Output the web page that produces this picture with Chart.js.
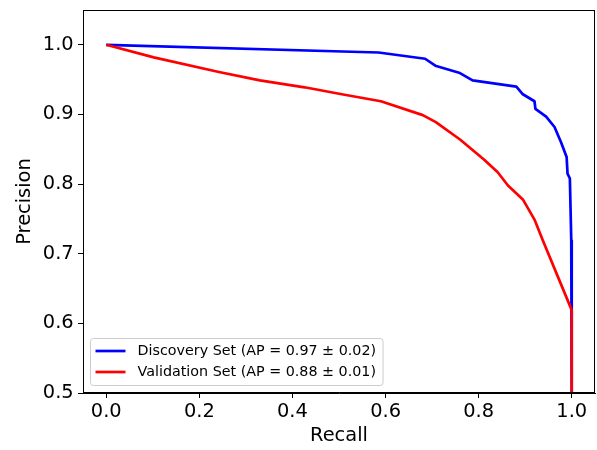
<!DOCTYPE html>
<html lang="en">
<head>
  <meta charset="UTF-8" />
  <title>Precision-Recall</title>
  <script src="https://cdn.jsdelivr.net/npm/chart.js"></script>
  <style>
    body { margin: 0; background: white; }
    #pr { display: block; }
  </style>
</head>
<body>
<canvas id="pr" width="597" height="450"></canvas>
<script>
// curve points read as (recall, precision)
const discoveryRecall = [0, 0.585, 0.685, 0.707, 0.758, 0.787, 0.881, 0.895, 0.920, 0.922, 0.945, 0.963, 0.977, 0.989, 0.991, 0.996, 0.999, 1.0, 1.0];
const discoveryPrecision = [1.0, 0.989, 0.980, 0.970, 0.960, 0.949, 0.940, 0.929, 0.919, 0.908, 0.897, 0.882, 0.860, 0.839, 0.815, 0.808, 0.719, 0.619, 0.5];
const validationRecall = [0, 0.102, 0.242, 0.330, 0.426, 0.506, 0.590, 0.680, 0.708, 0.760, 0.812, 0.841, 0.863, 0.895, 0.920, 0.938, 1.0, 1.0];
const validationPrecision = [1.0, 0.982, 0.961, 0.949, 0.939, 0.929, 0.919, 0.899, 0.889, 0.864, 0.835, 0.817, 0.798, 0.778, 0.749, 0.719, 0.619, 0.5];
const seriesLabels = ['Discovery Set (AP = 0.97 ± 0.02)', 'Validation Set (AP = 0.88 ± 0.01)'];
const xTicks = [0, 0.2, 0.4, 0.6, 0.8, 1.0];
const yTicks = [0.5, 0.6, 0.7, 0.8, 0.9, 1.0];

const FONT = 'DejaVu Sans';

function pts(xs, ys) {
  return xs.map((x, i) => ({ x: x, y: ys[i] }));
}

// box around the plot, like a matplotlib axes frame
const frame = {
  id: 'frame',
  afterDatasetsDraw(chart) {
    const a = chart.chartArea, ctx = chart.ctx;
    ctx.save();
    ctx.strokeStyle = '#000';
    ctx.lineWidth = 1;
    ctx.strokeRect(Math.round(a.left) + 0.5, Math.round(a.top) + 0.5,
      Math.round(a.right - a.left) - 1, Math.round(a.bottom - a.top) - 1);
    ctx.restore();
  }
};

// legend drawn in the lower-left corner of the plot
const cornerLegend = {
  id: 'cornerLegend',
  afterDatasetsDraw(chart) {
    const a = chart.chartArea, ctx = chart.ctx;
    const sets = chart.data.datasets;
    ctx.save();
    ctx.font = '14.3px "' + FONT + '"';
    let w = 0;
    sets.forEach(d => { w = Math.max(w, ctx.measureText(d.label).width); });
    const boxW = 5 + 30 + 12 + w + 7;
    const boxH = 47;
    const x0 = a.left + 7.5, y0 = a.bottom - 8 - boxH + 0.5;
    ctx.beginPath();
    ctx.roundRect(x0, y0, boxW, boxH, 3);
    ctx.fillStyle = 'rgba(255,255,255,0.8)';
    ctx.fill();
    ctx.strokeStyle = '#cccccc';
    ctx.lineWidth = 1;
    ctx.stroke();
    sets.forEach((d, i) => {
      const y = y0 + 12.5 + i * 21;
      ctx.beginPath();
      ctx.moveTo(x0 + 5, y);
      ctx.lineTo(x0 + 35, y);
      ctx.strokeStyle = d.borderColor;
      ctx.lineWidth = 2.7;
      ctx.stroke();
      ctx.fillStyle = '#000';
      ctx.textBaseline = 'middle';
      ctx.fillText(d.label, x0 + 47, y + 0.5);
    });
    ctx.restore();
  }
};

const tickFont = { family: FONT, size: 19.4 };

new Chart(document.getElementById('pr'), {
  type: 'scatter',
  data: {
    datasets: [
      { label: seriesLabels[0], data: pts(discoveryRecall, discoveryPrecision),
        borderColor: '#0000ff', order: 1 },
      { label: seriesLabels[1], data: pts(validationRecall, validationPrecision),
        borderColor: '#ff0000', order: 0 }
    ].map(d => Object.assign(d, {
      showLine: true, pointRadius: 0, borderWidth: 2.7, tension: 0,
      borderJoinStyle: 'round', borderCapStyle: 'butt', backgroundColor: d.borderColor
    }))
  },
  plugins: [frame, cornerLegend],
  options: {
    responsive: false,
    animation: false,
    devicePixelRatio: 1,
    layout: { padding: { top: 10, right: 2, left: 0, bottom: 0 } },
    plugins: { legend: { display: false }, tooltip: { enabled: false } },
    scales: {
      x: {
        type: 'linear', min: -0.05, max: 1.05,
        afterBuildTicks: s => { s.ticks = xTicks.map(v => ({ value: v })); },
        afterFit: s => { s.height = 57; s.paddingLeft = 0; s.paddingRight = 0; },
        grid: { drawOnChartArea: false, drawTicks: true, tickLength: 5, tickColor: '#000' },
        border: { display: true, color: '#000', width: 1 },
        ticks: { color: '#000', font: tickFont, padding: 2, maxRotation: 0, autoSkip: false,
          callback: v => v.toFixed(1) },
        title: { display: true, text: 'Recall', color: '#000', font: tickFont,
          padding: { top: 0, bottom: 2.5 } }
      },
      y: {
        type: 'linear', min: 0.5, max: 1.05,
        afterBuildTicks: s => { s.ticks = yTicks.map(v => ({ value: v })); },
        afterFit: s => { s.width = 83; s.paddingTop = 0; s.paddingBottom = 0; },
        grid: { drawOnChartArea: false, drawTicks: true, tickLength: 5, tickColor: '#000' },
        border: { display: true, color: '#000', width: 1 },
        ticks: { color: '#000', font: tickFont, padding: 4.3, autoSkip: false,
          callback: v => v.toFixed(1) },
        title: { display: true, text: 'Precision', color: '#000', font: tickFont,
          padding: { top: 13, bottom: 0 } }
      }
    }
  }
});
</script>
</body>
</html>
